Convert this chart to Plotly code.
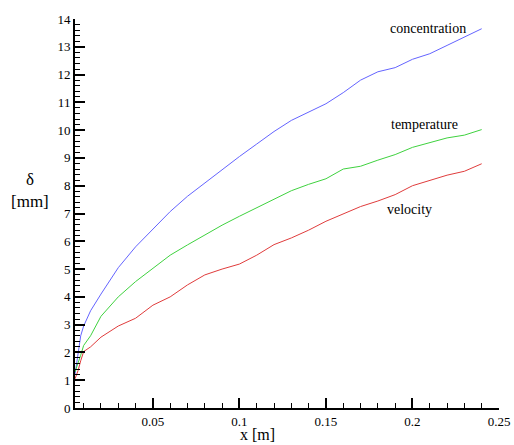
import plotly.graph_objects as go

# Boundary-layer thickness along the plate
x_m = [0.005, 0.0068, 0.0083, 0.01, 0.014, 0.02, 0.03, 0.04, 0.05, 0.06, 0.07,
       0.08, 0.09, 0.1, 0.11, 0.12, 0.13, 0.14, 0.15, 0.16, 0.17, 0.18, 0.19,
       0.2, 0.21, 0.22, 0.23, 0.24]
concentration = [1.2, 2.0, 2.6, 2.95, 3.5, 4.1, 5.05, 5.8, 6.45, 7.07, 7.62,
                 8.1, 8.6, 9.05, 9.5, 9.95, 10.35, 10.65, 10.95, 11.35, 11.8,
                 12.1, 12.25, 12.55, 12.75, 13.05, 13.35, 13.65]
temperature = [1.3, 1.6, 1.9, 2.25, 2.6, 3.3, 4.0, 4.55, 5.03, 5.5, 5.87,
               6.23, 6.58, 6.9, 7.2, 7.5, 7.82, 8.05, 8.25, 8.6, 8.7, 8.92,
               9.12, 9.38, 9.55, 9.72, 9.82, 10.02]
velocity = [1.05, 1.35, 1.7, 2.03, 2.2, 2.55, 2.95, 3.23, 3.7, 4.0, 4.43,
            4.79, 5.0, 5.18, 5.5, 5.88, 6.12, 6.4, 6.72, 6.98, 7.25, 7.45,
            7.68, 8.0, 8.2, 8.38, 8.52, 8.79]

series_names = ["concentration", "temperature", "velocity"]
series_colors = ["#6464ff", "#3fd23f", "#e03c3c"]
label_pos = [(0.2088, 13.66), (0.207, 10.2), (0.1985, 7.14)]

FONT = "Liberation Serif"

fig = go.Figure()
for name, ys, col in zip(series_names, [concentration, temperature, velocity], series_colors):
    fig.add_trace(go.Scatter(x=x_m, y=ys, mode="lines", name=name,
                             line=dict(color=col, width=1), showlegend=False))

for name, (lx, ly) in zip(series_names, label_pos):
    fig.add_annotation(x=lx, y=ly, text=name, showarrow=False,
                       font=dict(family=FONT, size=14, color="black"),
                       xanchor="center", yanchor="middle")

# Axis titles
fig.add_annotation(xref="paper", yref="paper", x=-0.105, y=0.56,
                   text="δ<br>[mm]", showarrow=False, align="center",
                   font=dict(family=FONT, size=17, color="black"),
                   xanchor="center", yanchor="middle")
fig.add_annotation(xref="paper", yref="paper", x=0.43, y=-0.068,
                   text="x [m]", showarrow=False,
                   font=dict(family=FONT, size=16, color="black"),
                   xanchor="center", yanchor="middle")

fig.update_layout(
    width=514, height=445,
    margin=dict(l=75, r=15, t=19, b=37),
    paper_bgcolor="white", plot_bgcolor="white",
    font=dict(family=FONT, size=13, color="black"),
)
fig.update_xaxes(
    range=[0.005, 0.25], showgrid=False, zeroline=False, automargin=False,
    showline=True, linecolor="black", linewidth=2,
    ticks="inside", ticklen=10, tickwidth=2, tickcolor="black",
    tick0=0, dtick=0.05,
    minor=dict(ticks="inside", ticklen=5, tickwidth=1, tickcolor="black", dtick=0.01, tick0=0),
    tickfont=dict(family=FONT, size=13),
)
fig.update_yaxes(
    range=[0, 14], showgrid=False, zeroline=False, automargin=False,
    showline=True, linecolor="black", linewidth=2,
    ticks="inside", ticklen=10, tickwidth=2, tickcolor="black",
    tick0=0, dtick=1,
    minor=dict(ticks="inside", ticklen=5, tickwidth=1, tickcolor="black", dtick=0.2, tick0=0),
    tickfont=dict(family=FONT, size=13),
)

fig.write_html("out.html")
